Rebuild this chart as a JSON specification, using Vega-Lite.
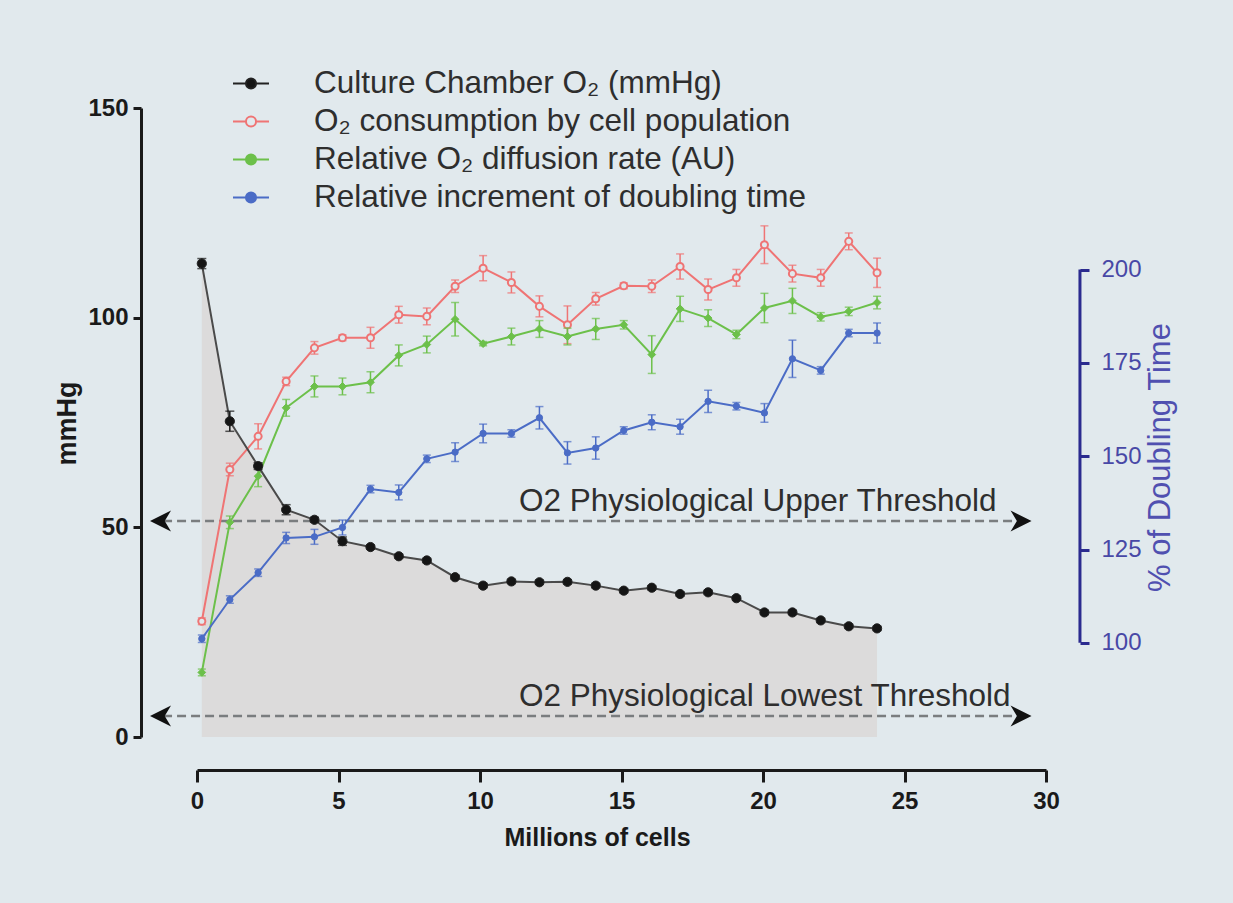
{
  "$schema": "https://vega.github.io/schema/vega-lite/v6.json",
  "width": 849,
  "height": 629,
  "autosize": {"type": "none"},
  "padding": {"left": 197, "top": 108, "right": 187, "bottom": 166},
  "background": "#e1e9ed",
  "config": {
    "view": {"stroke": null},
    "font": "Liberation Sans",
    "axis": {"grid": false, "labelFont": "Liberation Sans", "titleFont": "Liberation Sans", "labelFlush": false, "labelOverlap": false, "labelBound": false}
  },
  "datasets": {
    "chamber": [
      {"x": 0.17, "y": 112.9, "lo": 111.7, "hi": 114.1},
      {"x": 1.16, "y": 75.3, "lo": 72.9, "hi": 77.7},
      {"x": 2.16, "y": 64.6, "lo": 63.8, "hi": 65.4},
      {"x": 3.15, "y": 54.2, "lo": 53.0, "hi": 55.4},
      {"x": 4.15, "y": 51.8, "lo": 51.2, "hi": 52.4},
      {"x": 5.14, "y": 46.7, "lo": 45.7, "hi": 47.7},
      {"x": 6.13, "y": 45.3, "lo": 44.8, "hi": 45.8},
      {"x": 7.13, "y": 43.1, "lo": 42.6, "hi": 43.6},
      {"x": 8.12, "y": 42.1, "lo": 41.6, "hi": 42.6},
      {"x": 9.12, "y": 38.1, "lo": 37.6, "hi": 38.6},
      {"x": 10.11, "y": 36.1, "lo": 35.6, "hi": 36.6},
      {"x": 11.11, "y": 37.1, "lo": 36.6, "hi": 37.6},
      {"x": 12.10, "y": 36.9, "lo": 36.4, "hi": 37.4},
      {"x": 13.09, "y": 37.0, "lo": 36.5, "hi": 37.5},
      {"x": 14.09, "y": 36.1, "lo": 35.6, "hi": 36.6},
      {"x": 15.08, "y": 34.9, "lo": 34.4, "hi": 35.4},
      {"x": 16.07, "y": 35.6, "lo": 35.1, "hi": 36.1},
      {"x": 17.07, "y": 34.1, "lo": 33.6, "hi": 34.6},
      {"x": 18.06, "y": 34.5, "lo": 34.0, "hi": 35.0},
      {"x": 19.06, "y": 33.1, "lo": 32.6, "hi": 33.6},
      {"x": 20.05, "y": 29.7, "lo": 29.2, "hi": 30.2},
      {"x": 21.04, "y": 29.7, "lo": 29.2, "hi": 30.2},
      {"x": 22.04, "y": 27.8, "lo": 27.3, "hi": 28.3},
      {"x": 23.03, "y": 26.4, "lo": 25.9, "hi": 26.9},
      {"x": 24.03, "y": 25.9, "lo": 25.4, "hi": 26.4}
    ],
    "consumption": [
      {"x": 0.17, "y": 27.6, "lo": 26.8, "hi": 28.4},
      {"x": 1.16, "y": 63.8, "lo": 62.3, "hi": 65.3},
      {"x": 2.16, "y": 71.7, "lo": 68.7, "hi": 74.7},
      {"x": 3.15, "y": 84.8, "lo": 83.8, "hi": 85.8},
      {"x": 4.15, "y": 92.8, "lo": 91.3, "hi": 94.3},
      {"x": 5.14, "y": 95.2, "lo": 94.5, "hi": 95.9},
      {"x": 6.13, "y": 95.2, "lo": 92.7, "hi": 97.7},
      {"x": 7.13, "y": 100.7, "lo": 98.7, "hi": 102.7},
      {"x": 8.12, "y": 100.3, "lo": 98.3, "hi": 102.3},
      {"x": 9.12, "y": 107.5, "lo": 106.0, "hi": 109.0},
      {"x": 10.11, "y": 111.8, "lo": 108.8, "hi": 114.8},
      {"x": 11.11, "y": 108.4, "lo": 105.9, "hi": 110.9},
      {"x": 12.10, "y": 102.7, "lo": 100.2, "hi": 105.2},
      {"x": 13.09, "y": 98.3, "lo": 93.8, "hi": 102.8},
      {"x": 14.09, "y": 104.5, "lo": 103.0, "hi": 106.0},
      {"x": 15.08, "y": 107.6, "lo": 106.9, "hi": 108.3},
      {"x": 16.07, "y": 107.5, "lo": 106.0, "hi": 109.0},
      {"x": 17.07, "y": 112.2, "lo": 109.2, "hi": 115.2},
      {"x": 18.06, "y": 106.7, "lo": 104.2, "hi": 109.2},
      {"x": 19.06, "y": 109.5, "lo": 107.5, "hi": 111.5},
      {"x": 20.05, "y": 117.4, "lo": 112.9, "hi": 121.9},
      {"x": 21.04, "y": 110.5, "lo": 108.5, "hi": 112.5},
      {"x": 22.04, "y": 109.5, "lo": 107.5, "hi": 111.5},
      {"x": 23.03, "y": 118.2, "lo": 116.2, "hi": 120.2},
      {"x": 24.03, "y": 110.7, "lo": 107.2, "hi": 114.2}
    ],
    "diffusion": [
      {"x": 0.17, "y": 15.4, "lo": 14.6, "hi": 16.2},
      {"x": 1.16, "y": 51.2, "lo": 49.7, "hi": 52.7},
      {"x": 2.16, "y": 62.2, "lo": 59.7, "hi": 64.7},
      {"x": 3.15, "y": 78.5, "lo": 76.5, "hi": 80.5},
      {"x": 4.15, "y": 83.6, "lo": 81.1, "hi": 86.1},
      {"x": 5.14, "y": 83.6, "lo": 81.6, "hi": 85.6},
      {"x": 6.13, "y": 84.6, "lo": 82.1, "hi": 87.1},
      {"x": 7.13, "y": 91.0, "lo": 88.5, "hi": 93.5},
      {"x": 8.12, "y": 93.6, "lo": 91.6, "hi": 95.6},
      {"x": 9.12, "y": 99.6, "lo": 95.6, "hi": 103.6},
      {"x": 10.11, "y": 93.8, "lo": 93.3, "hi": 94.3},
      {"x": 11.11, "y": 95.5, "lo": 93.5, "hi": 97.5},
      {"x": 12.10, "y": 97.3, "lo": 95.3, "hi": 99.3},
      {"x": 13.09, "y": 95.5, "lo": 93.5, "hi": 97.5},
      {"x": 14.09, "y": 97.3, "lo": 94.8, "hi": 99.8},
      {"x": 15.08, "y": 98.3, "lo": 97.3, "hi": 99.3},
      {"x": 16.07, "y": 91.2, "lo": 86.7, "hi": 95.7},
      {"x": 17.07, "y": 102.1, "lo": 99.1, "hi": 105.1},
      {"x": 18.06, "y": 99.9, "lo": 97.9, "hi": 101.9},
      {"x": 19.06, "y": 96.0, "lo": 95.0, "hi": 97.0},
      {"x": 20.05, "y": 102.3, "lo": 98.8, "hi": 105.8},
      {"x": 21.04, "y": 104.0, "lo": 101.0, "hi": 107.0},
      {"x": 22.04, "y": 100.2, "lo": 99.2, "hi": 101.2},
      {"x": 23.03, "y": 101.5, "lo": 100.5, "hi": 102.5},
      {"x": 24.03, "y": 103.6, "lo": 102.1, "hi": 105.1}
    ],
    "doubling": [
      {"x": 0.17, "y": 101.1, "lo": 100.1, "hi": 102.1},
      {"x": 1.16, "y": 111.6, "lo": 110.6, "hi": 112.6},
      {"x": 2.16, "y": 118.8, "lo": 117.8, "hi": 119.8},
      {"x": 3.15, "y": 128.1, "lo": 126.6, "hi": 129.6},
      {"x": 4.15, "y": 128.4, "lo": 126.4, "hi": 130.4},
      {"x": 5.14, "y": 130.9, "lo": 128.9, "hi": 132.9},
      {"x": 6.13, "y": 141.2, "lo": 140.2, "hi": 142.2},
      {"x": 7.13, "y": 140.3, "lo": 138.3, "hi": 142.3},
      {"x": 8.12, "y": 149.3, "lo": 148.3, "hi": 150.3},
      {"x": 9.12, "y": 151.1, "lo": 148.6, "hi": 153.6},
      {"x": 10.11, "y": 156.1, "lo": 153.6, "hi": 158.6},
      {"x": 11.11, "y": 156.1, "lo": 155.1, "hi": 157.1},
      {"x": 12.10, "y": 160.3, "lo": 157.3, "hi": 163.3},
      {"x": 13.09, "y": 150.9, "lo": 147.9, "hi": 153.9},
      {"x": 14.09, "y": 152.2, "lo": 149.2, "hi": 155.2},
      {"x": 15.08, "y": 156.9, "lo": 155.9, "hi": 157.9},
      {"x": 16.07, "y": 159.1, "lo": 157.1, "hi": 161.1},
      {"x": 17.07, "y": 157.9, "lo": 155.9, "hi": 159.9},
      {"x": 18.06, "y": 164.7, "lo": 161.7, "hi": 167.7},
      {"x": 19.06, "y": 163.4, "lo": 162.4, "hi": 164.4},
      {"x": 20.05, "y": 161.6, "lo": 159.1, "hi": 164.1},
      {"x": 21.04, "y": 176.1, "lo": 171.1, "hi": 181.1},
      {"x": 22.04, "y": 173.0, "lo": 172.0, "hi": 174.0},
      {"x": 23.03, "y": 183.0, "lo": 182.0, "hi": 184.0},
      {"x": 24.03, "y": 183.0, "lo": 180.3, "hi": 185.7}
    ],
    "thresholds": [
      {"label": "O2 Physiological Upper Threshold", "y": 51.5, "x1": -1.2, "x2": 29.0, "xl": -1.66, "xr": 29.49, "tx": 11.38, "ty": 53.8},
      {"label": "O2 Physiological Lowest Threshold", "y": 5.0, "x1": -1.2, "x2": 29.0, "xl": -1.66, "xr": 29.49, "tx": 11.38, "ty": 7.3}
    ],
    "axisline": [
      {"x": 31.2, "from": 100, "to": 200}
    ]
  },
  "resolve": {"scale": {"y": "independent"}},
  "layer": [
    {
      "layer": [
        {
          "data": {"name": "chamber"},
          "mark": {"type": "area", "color": "#dcdbdb"},
          "encoding": {
            "x": {"field": "x", "type": "quantitative", "title": "Millions of cells", "scale": {"domain": [0, 30], "nice": false, "zero": false},
              "axis": {"orient": "bottom", "offset": 33, "values": [0, 5, 10, 15, 20, 25, 30], "domainColor": "#1a1a1a", "domainWidth": 3, "tickColor": "#1a1a1a", "tickWidth": 3, "tickSize": 12, "labelFontSize": 24, "labelFontWeight": "bold", "labelColor": "#1a1a1a", "labelPadding": 7, "titleFontSize": 25, "titleFontWeight": "bold", "titleColor": "#1a1a1a", "titleX": 400, "titleY": 75, "titleAlign": "center", "titleBaseline": "alphabetic"}},
            "y": {"field": "y", "type": "quantitative", "title": "mmHg", "scale": {"domain": [0, 150], "nice": false, "zero": false},
              "axis": {"orient": "left", "offset": 56, "values": [0, 50, 100, 150], "domainColor": "#1a1a1a", "domainWidth": 3, "tickColor": "#1a1a1a", "tickWidth": 3, "tickSize": 8, "labelFontSize": 24, "labelFontWeight": "bold", "labelColor": "#1a1a1a", "labelPadding": 5, "titleFontSize": 27, "titleFontWeight": "bold", "titleColor": "#1a1a1a", "titleAngle": -90, "titleX": -74, "titleY": 315, "titleAlign": "center", "titleBaseline": "middle"}},
            "y2": {"datum": 0}
          }
        },
        {
          "data": {"name": "thresholds"},
          "mark": {"type": "rule", "strokeDash": [9, 5], "strokeWidth": 2.5, "color": "#7a7d7f"},
          "encoding": {
            "x": {"field": "x1", "type": "quantitative", "title": "Millions of cells"},
            "x2": {"field": "x2"},
            "y": {"field": "y", "type": "quantitative", "title": "mmHg"}
          }
        },
        {
          "data": {"name": "thresholds"},
          "mark": {"type": "point", "shape": "M0,0L2,-1L1.4,0L2,1Z", "size": 441, "filled": true, "color": "#111111", "opacity": 1},
          "encoding": {
            "x": {"field": "xl", "type": "quantitative", "title": "Millions of cells"},
            "y": {"field": "y", "type": "quantitative", "title": "mmHg"}
          }
        },
        {
          "data": {"name": "thresholds"},
          "mark": {"type": "point", "shape": "M0,0L-2,-1L-1.4,0L-2,1Z", "size": 441, "filled": true, "color": "#111111", "opacity": 1},
          "encoding": {
            "x": {"field": "xr", "type": "quantitative", "title": "Millions of cells"},
            "y": {"field": "y", "type": "quantitative", "title": "mmHg"}
          }
        },
        {
          "data": {"name": "thresholds"},
          "mark": {"type": "text", "align": "left", "baseline": "alphabetic", "fontSize": 31.5, "color": "#2e2e2e", "font": "Liberation Sans"},
          "encoding": {
            "x": {"field": "tx", "type": "quantitative", "title": "Millions of cells"},
            "y": {"field": "ty", "type": "quantitative", "title": "mmHg"},
            "text": {"field": "label"}
          }
        },
        {
          "data": {"name": "consumption"},
          "mark": {"type": "line", "color": "#ef7474", "strokeWidth": 2},
          "encoding": {
            "x": {"field": "x", "type": "quantitative", "title": "Millions of cells"},
            "y": {"field": "y", "type": "quantitative", "title": "mmHg"}
          }
        },
        {
          "data": {"name": "consumption"},
          "mark": {"type": "errorbar", "orient": "vertical", "color": "#ef7474", "thickness": 1.5, "ticks": {"size": 8}},
          "encoding": {
            "x": {"field": "x", "type": "quantitative", "title": "Millions of cells"},
            "y": {"field": "lo", "type": "quantitative", "title": "mmHg"},
            "y2": {"field": "hi"}
          }
        },
        {
          "data": {"name": "consumption"},
          "mark": {"type": "point", "shape": "circle", "size": 50, "strokeWidth": 2, "opacity": 1},
          "encoding": {
            "x": {"field": "x", "type": "quantitative", "title": "Millions of cells"},
            "y": {"field": "y", "type": "quantitative", "title": "mmHg"},
            "fill": {"datum": "O₂ consumption by cell population", "type": "nominal",
              "scale": {"domain": ["Culture Chamber O₂ (mmHg)", "O₂ consumption by cell population", "Relative O₂ diffusion rate (AU)", "Relative increment of doubling time"], "range": ["#151515", "#e1e9ed", "#6cc04a", "#4b6cc6"]},
              "legend": {"orient": "none", "legendX": 35, "legendY": -43.5, "title": null, "padding": 0, "symbolType": "M-1,0H-0.28M0.28,0H1M0.28,0A0.28,0.28 0 1 1 -0.28,0A0.28,0.28 0 1 1 0.28,0Z", "symbolSize": 1296, "symbolStrokeWidth": 2, "symbolOpacity": 1, "labelFontSize": 31.5, "labelColor": "#2e2e2e", "labelFont": "Liberation Sans", "labelOffset": 44, "rowPadding": 3, "labelLimit": 700}},
            "stroke": {"datum": "O₂ consumption by cell population", "type": "nominal",
              "scale": {"domain": ["Culture Chamber O₂ (mmHg)", "O₂ consumption by cell population", "Relative O₂ diffusion rate (AU)", "Relative increment of doubling time"], "range": ["#222222", "#ef7474", "#6cc04a", "#4b6cc6"]},
              "legend": {"orient": "none", "legendX": 35, "legendY": -43.5, "title": null, "padding": 0, "symbolType": "M-1,0H-0.28M0.28,0H1M0.28,0A0.28,0.28 0 1 1 -0.28,0A0.28,0.28 0 1 1 0.28,0Z", "symbolSize": 1296, "symbolStrokeWidth": 2, "symbolOpacity": 1, "labelFontSize": 31.5, "labelColor": "#2e2e2e", "labelFont": "Liberation Sans", "labelOffset": 44, "rowPadding": 3, "labelLimit": 700}}
          }
        },
        {
          "data": {"name": "diffusion"},
          "mark": {"type": "line", "color": "#6cc04a", "strokeWidth": 2},
          "encoding": {
            "x": {"field": "x", "type": "quantitative", "title": "Millions of cells"},
            "y": {"field": "y", "type": "quantitative", "title": "mmHg"}
          }
        },
        {
          "data": {"name": "diffusion"},
          "mark": {"type": "errorbar", "orient": "vertical", "color": "#6cc04a", "thickness": 1.5, "ticks": {"size": 8}},
          "encoding": {
            "x": {"field": "x", "type": "quantitative", "title": "Millions of cells"},
            "y": {"field": "lo", "type": "quantitative", "title": "mmHg"},
            "y2": {"field": "hi"}
          }
        },
        {
          "data": {"name": "diffusion"},
          "mark": {"type": "point", "shape": "diamond", "size": 60, "strokeWidth": 1, "opacity": 1},
          "encoding": {
            "x": {"field": "x", "type": "quantitative", "title": "Millions of cells"},
            "y": {"field": "y", "type": "quantitative", "title": "mmHg"},
            "fill": {"datum": "Relative O₂ diffusion rate (AU)", "type": "nominal"},
            "stroke": {"datum": "Relative O₂ diffusion rate (AU)", "type": "nominal"}
          }
        },
        {
          "data": {"name": "chamber"},
          "mark": {"type": "line", "color": "#4a4a4a", "strokeWidth": 2},
          "encoding": {
            "x": {"field": "x", "type": "quantitative", "title": "Millions of cells"},
            "y": {"field": "y", "type": "quantitative", "title": "mmHg"}
          }
        },
        {
          "data": {"name": "chamber"},
          "mark": {"type": "errorbar", "orient": "vertical", "color": "#151515", "thickness": 1.5, "ticks": {"size": 9}},
          "encoding": {
            "x": {"field": "x", "type": "quantitative", "title": "Millions of cells"},
            "y": {"field": "lo", "type": "quantitative", "title": "mmHg"},
            "y2": {"field": "hi"}
          }
        },
        {
          "data": {"name": "chamber"},
          "mark": {"type": "point", "shape": "circle", "size": 85, "strokeWidth": 1, "opacity": 1},
          "encoding": {
            "x": {"field": "x", "type": "quantitative", "title": "Millions of cells"},
            "y": {"field": "y", "type": "quantitative", "title": "mmHg"},
            "fill": {"datum": "Culture Chamber O₂ (mmHg)", "type": "nominal"},
            "stroke": {"datum": "Culture Chamber O₂ (mmHg)", "type": "nominal"}
          }
        }
      ]
    },
    {
      "layer": [
        {
          "data": {"name": "axisline"},
          "mark": {"type": "rule", "color": "#2b2b8f", "strokeWidth": 3},
          "encoding": {
            "x": {"field": "x", "type": "quantitative", "title": "Millions of cells"},
            "y": {"field": "from", "type": "quantitative", "title": "% of Doubling Time"},
            "y2": {"field": "to"}
          }
        },
        {
          "data": {"name": "doubling"},
          "mark": {"type": "line", "color": "#4b6cc6", "strokeWidth": 2},
          "encoding": {
            "x": {"field": "x", "type": "quantitative", "title": "Millions of cells"},
            "y": {"field": "y", "type": "quantitative", "title": "% of Doubling Time", "scale": {"domain": [74.77, 243.3], "nice": false, "zero": false},
              "axis": {"orient": "right", "offset": 34, "values": [100, 125, 150, 175, 200], "domain": false, "tickColor": "#2b2b8f", "tickWidth": 3, "tickSize": 9, "labelFontSize": 24, "labelColor": "#4848a6", "labelPadding": 12, "titleFontSize": 31, "titleFontWeight": "normal", "titleColor": "#5050b0", "titleAngle": -90, "titleX": 80, "titleY": 349, "titleAlign": "center", "titleBaseline": "middle"}}
          }
        },
        {
          "data": {"name": "doubling"},
          "mark": {"type": "errorbar", "orient": "vertical", "color": "#4b6cc6", "thickness": 1.5, "ticks": {"size": 8}},
          "encoding": {
            "x": {"field": "x", "type": "quantitative", "title": "Millions of cells"},
            "y": {"field": "lo", "type": "quantitative", "title": "% of Doubling Time"},
            "y2": {"field": "hi"}
          }
        },
        {
          "data": {"name": "doubling"},
          "mark": {"type": "point", "shape": "circle", "size": 40, "strokeWidth": 1, "opacity": 1},
          "encoding": {
            "x": {"field": "x", "type": "quantitative", "title": "Millions of cells"},
            "y": {"field": "y", "type": "quantitative", "title": "% of Doubling Time"},
            "fill": {"datum": "Relative increment of doubling time", "type": "nominal"},
            "stroke": {"datum": "Relative increment of doubling time", "type": "nominal"}
          }
        }
      ]
    }
  ]
}
